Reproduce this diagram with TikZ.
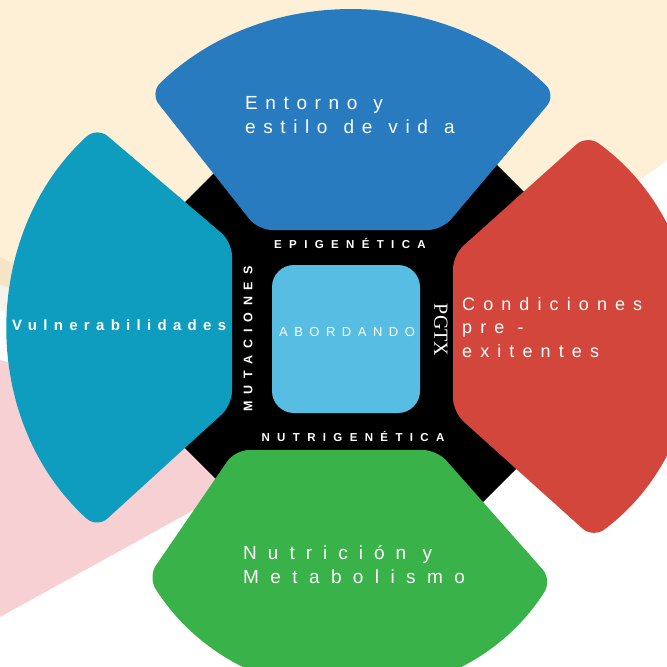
\documentclass[tikz,border=0pt]{standalone}
\usepackage{fontspec}
\setmainfont{Liberation Sans}
\newfontfamily\petalfont[WordSpace=1.25]{Liberation Sans}
\newfontfamily\seriffont{Liberation Serif}
\usetikzlibrary{positioning}
\definecolor{beige}{RGB}{254,240,214}
\definecolor{tanband}{RGB}{245,228,197}
\definecolor{greyband}{RGB}{246,243,236}
\definecolor{pinkbg}{RGB}{246,208,210}
\definecolor{entornoblue}{RGB}{41,123,191}
\definecolor{vulnteal}{RGB}{14,157,190}
\definecolor{condred}{RGB}{210,70,60}
\definecolor{nutrigreen}{RGB}{57,178,74}
\definecolor{abordblue}{RGB}{87,189,227}

\begin{document}
\begin{tikzpicture}[x=1pt,y=-1pt]
\tikzset{petal/.style={rounded corners=14pt}, word/.style={text=white,inner sep=0pt},
  big/.style={word,anchor=base west,font=\petalfont\fontsize{19}{23}\selectfont\addfontfeature{LetterSpace=40}},
  tag/.style={word,font=\bfseries\fontsize{11.5}{14}\selectfont\addfontfeature{LetterSpace=64}}};
   \useasboundingbox (0,0) rectangle (667,667);
   \clip (0,0) rectangle (667,667);

   % background
   \fill[greyband] (0,285) -- (60,300) -- (60,330) -- (0,310) -- cycle;
   \fill[tanband] (0,240) -- (60,250) -- (60,300) -- (0,285) -- cycle;
   \fill[beige] (0,0) -- (667,0) -- (667,160) .. controls (560,250) and (200,357) .. (0,257) -- cycle;
   \fill[pinkbg] (0,360) -- (250,430) -- (250,479) -- (0,617) -- cycle;

   % frame and petals
   \fill[black] (237,150) -- (482,150) -- (550,218) -- (550,435) -- (435,550) -- (287,550) -- (150,413) -- (150,237) -- cycle;
   \fill[entornoblue,petal] (350,230) -- (442,230) -- (556,95) .. controls (443,-15) and (263,-17) .. (150,93) -- (258,230) -- cycle;
   \fill[vulnteal,petal] (232,323) -- (232,405) -- (97,528) .. controls (-21,421) and (-20,234) .. (97,127) -- (232,242) -- cycle;
   \fill[condred,petal] (453,333) -- (453,255) -- (587,135) .. controls (724,234) and (728,437) .. (593,538) -- (453,412) -- cycle;
   \fill[nutrigreen,petal] (335,450) -- (235,450) -- (148,577) .. controls (242,725) and (458,728) .. (552,580) -- (437,450) -- cycle;

   \node[fill=abordblue,rounded corners=22pt,minimum size=148pt,inner sep=0pt] (core) at (346,339) {};
   \node[word,anchor=base,font=\fontsize{13}{15}\selectfont\addfontfeature{LetterSpace=50}] (abordando) at (347,336) {ABORDANDO};

   \node[tag,anchor=base] (epi) at (350,248) {EPIGENÉTICA};
   \node[tag,anchor=base] (nutrigen) at (353,441) {NUTRIGENÉTICA};
   \node[tag,rotate=90,font=\bfseries\fontsize{12.5}{14}\selectfont\addfontfeature{LetterSpace=55}] (mut) at (248,339) {MUTACIONES};
   \node[word,rotate=-90,font=\seriffont\fontsize{20}{22}\selectfont] (pgtx) at (441,330) {PGTX};

   \node[big] (entorno1) at (245,109) {Entorno y};
   \node[big] (entorno2) at (245,133) {estilo de vid a};
   \node[big,font=\bfseries\fontsize{15}{18}\selectfont\addfontfeature{LetterSpace=42}] (vuln) at (12,330) {Vulnerabilidades};
   \node[big,font=\fontsize{18}{22}\selectfont\addfontfeature{LetterSpace=45}] (cond1) at (462,310) {Condiciones};
   \node[big,font=\fontsize{18}{22}\selectfont\addfontfeature{LetterSpace=45}] (cond2) at (462,333) {pre -};
   \node[big,font=\fontsize{18}{22}\selectfont\addfontfeature{LetterSpace=45}] (cond3) at (462,357) {exitentes};
   \node[big,font=\fontsize{19}{23}\selectfont\addfontfeature{LetterSpace=58}] (nutri1) at (243,559) {Nutrición y};
   \node[big,font=\fontsize{19}{23}\selectfont\addfontfeature{LetterSpace=60}] (nutri2) at (243,583) {Metabolismo};
\end{tikzpicture}
\end{document}
